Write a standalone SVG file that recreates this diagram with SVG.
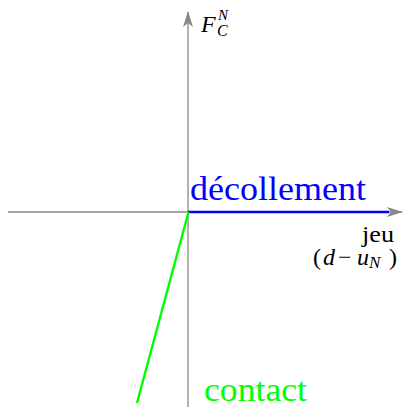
<svg xmlns="http://www.w3.org/2000/svg" width="403" height="407" viewBox="0 0 403 407">
<style>
.ax{stroke:#888;stroke-width:1.3;fill:none}
.t{font-family:"Liberation Serif",serif}
.m{font-family:"Liberation Serif",serif;font-style:italic}
</style>
<defs>
<marker id="ah" markerWidth="16" markerHeight="10" refX="15" refY="5" orient="auto" markerUnits="userSpaceOnUse">
<path d="M0,0 L16,5 L0,10 L4,5 Z" fill="#888"/>
</marker>
</defs>
<g id="connectors">
<line class="ax" x1="8" y1="212" x2="402" y2="212" marker-end="url(#ah)"/>
<line class="ax" x1="188" y1="407" x2="188" y2="12" marker-end="url(#ah)"/>
<line x1="188" y1="212" x2="389" y2="212" stroke="#0000ff" stroke-width="2.6"/>
<line x1="188.5" y1="212" x2="137" y2="403" stroke="#00ff00" stroke-width="2.4"/>
</g>
<g id="decollement"><text class="t" x="190" y="200" font-size="34" fill="#0000ff" textLength="176" lengthAdjust="spacingAndGlyphs">décollement</text></g>
<g id="contact"><text class="t" x="204" y="401" font-size="34" fill="#00ff00" textLength="103" lengthAdjust="spacingAndGlyphs">contact</text></g>
<g id="jeu"><text class="t" x="362" y="242" font-size="23" textLength="32" lengthAdjust="spacingAndGlyphs">jeu</text>
<text y="265" font-size="24"><tspan class="t" x="313">(</tspan><tspan class="m" x="323">d</tspan><tspan class="t" x="338">−</tspan><tspan class="m" x="357">u</tspan><tspan class="m" font-size="17" x="369" dy="3">N</tspan><tspan class="t" x="389" dy="-3">)</tspan></text></g>
<g id="FCN"><text font-size="24"><tspan class="m" x="201" y="32">F</tspan><tspan class="m" font-size="16" x="217" y="36">C</tspan><tspan class="m" font-size="15" x="218" y="20">N</tspan></text></g>
</svg>
